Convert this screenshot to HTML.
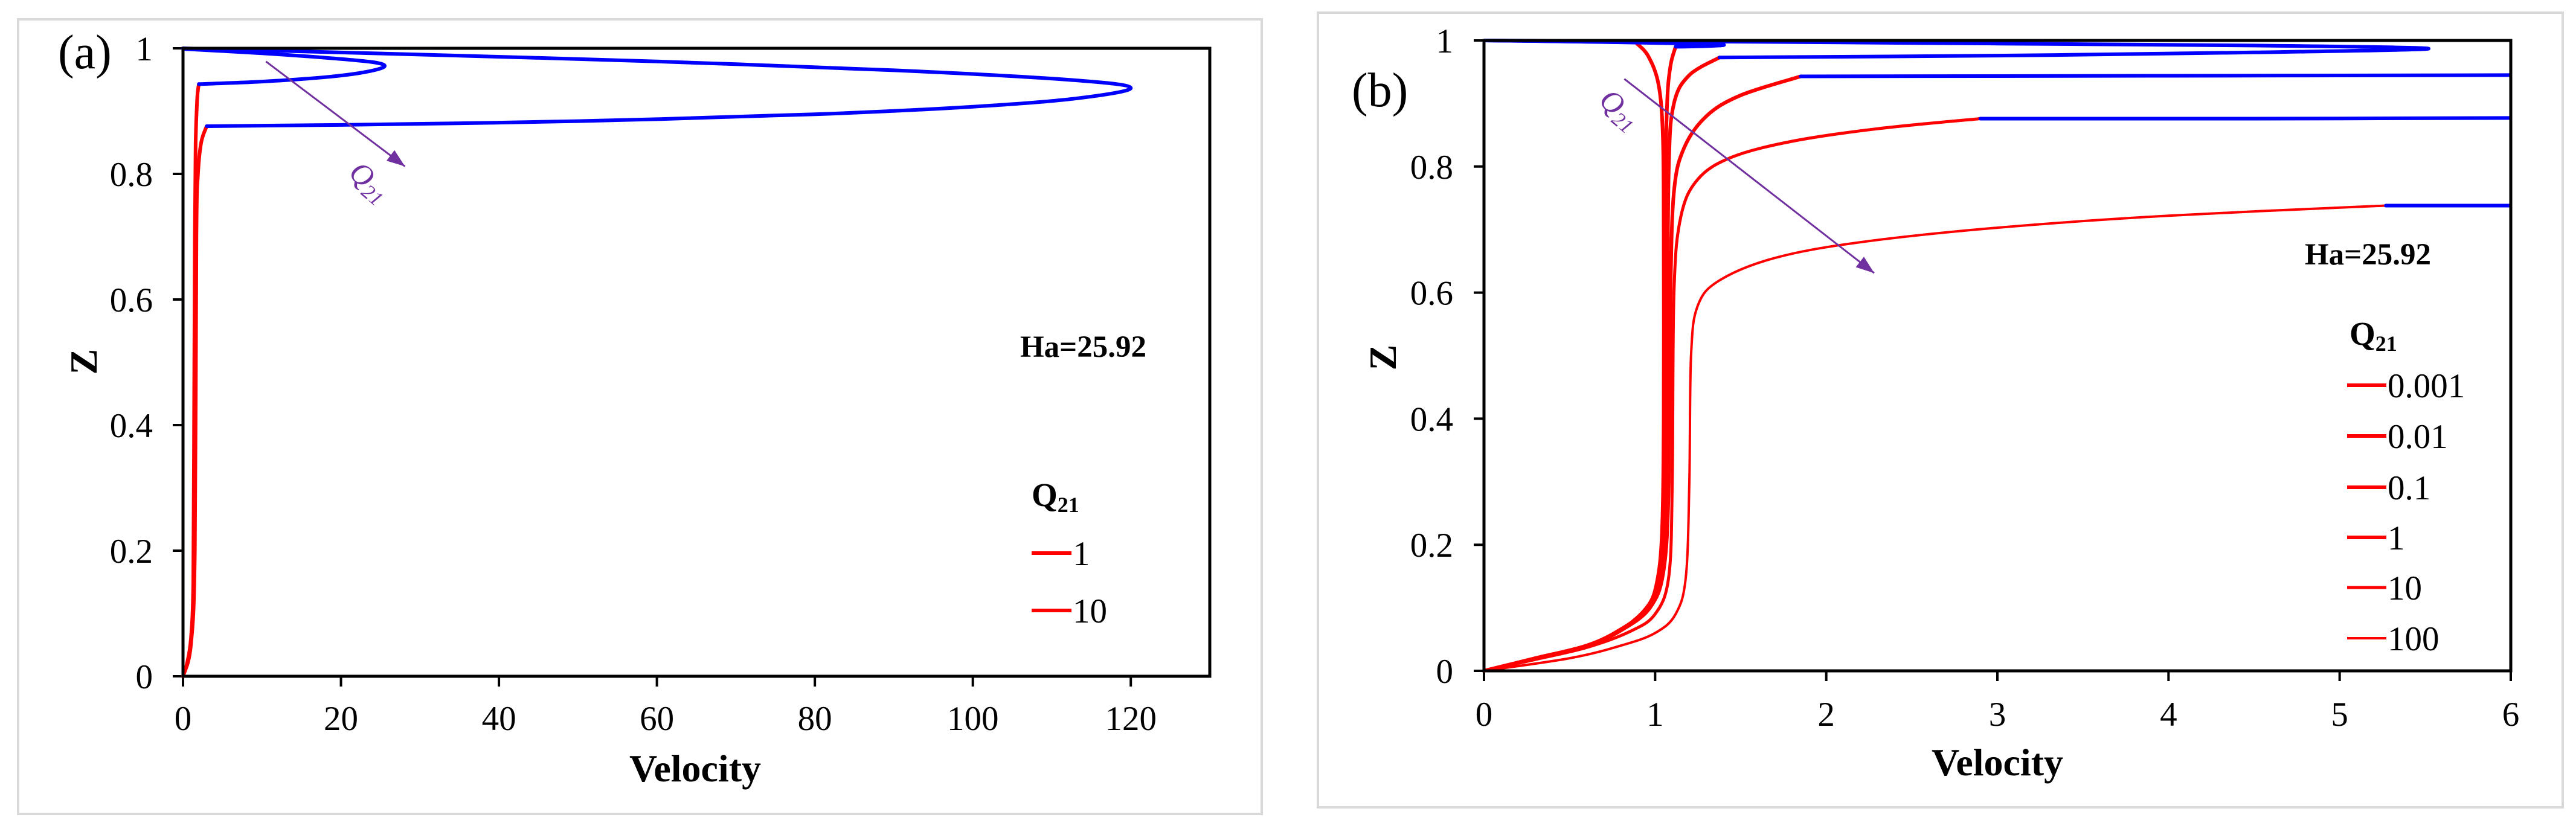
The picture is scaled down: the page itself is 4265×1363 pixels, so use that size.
<!DOCTYPE html>
<html><head><meta charset="utf-8"><style>
html,body{margin:0;padding:0;background:#fff;}
svg{display:block;}
svg text{font-family:"Liberation Serif","Times New Roman","DejaVu Serif",serif !important;}
</style></head><body>
<svg id="fig" width="4265" height="1363" viewBox="0 0 4265 1363" xmlns="http://www.w3.org/2000/svg" font-family="Liberation Serif, Times New Roman, DejaVu Serif, serif">
<rect x="30" y="32" width="2059" height="1316" fill="#fff" stroke="#d9d9d9" stroke-width="4"/>
<rect x="2182" y="21" width="2061" height="1316" fill="#fff" stroke="#d9d9d9" stroke-width="4"/>
<g id="ga"></g>
<g id="gb"></g>
</svg>
<script>
// ---- Panel (a) data ----
const aXTicks = [0,20,40,60,80,100,120];
const aYTicks = [0,0.2,0.4,0.6,0.8,1];
const aYTickLabels = ["0","0.2","0.4","0.6","0.8","1"];
const aQ1Red = [[0,0],[0.5,0.02],[1,0.06],[1.3,0.15],[1.4,0.4],[1.5,0.7],[1.6,0.85],[1.8,0.92],[2,0.943]];
const aQ1Blue = [[2,0.943],[10,0.947],[18,0.954],[23,0.962],[25.5,0.971],[24,0.978],[18,0.985],[10,0.992],[0,0.999]];
const aQ10Red = [[0,0],[1,0.05],[1.5,0.2],[1.7,0.7],[1.9,0.8],[2.3,0.85],[3,0.876]];
const aQ10Blue = [[3,0.876],[20,0.878],[50,0.884],[80,0.895],[100,0.907],[113,0.92],[120,0.937],[112,0.95],[90,0.965],[60,0.979],[30,0.99],[0,1]];
const aLegend = ["1","10"];
// ---- Panel (b) data ----
const bXTicks = [0,1,2,3,4,5,6];
const bYTicks = [0,0.2,0.4,0.6,0.8,1];
const bYTickLabels = ["0","0.2","0.4","0.6","0.8","1"];
const bLegend = ["0.001","0.01","0.1","1","10","100"];
const bQ0001Red = [[0,0],[0.3,0.02],[0.6,0.04],[0.8,0.065],[0.95,0.1],[1.01,0.14],[1.04,0.22],[1.05,0.4],[1.05,0.7],[1.045,0.85],[1.02,0.93],[0.96,0.975],[0.886,0.997]];
const bQ0001Blue = [[0.886,0.997],[0.6,0.998],[0.3,0.999],[0,1]];
const bQ001Red = [[0,0],[0.3,0.02],[0.6,0.04],[0.8,0.065],[0.95,0.1],[1.02,0.14],[1.05,0.22],[1.06,0.4],[1.06,0.75],[1.07,0.9],[1.09,0.96],[1.12,0.99]];
const bQ001Blue = [[1.12,0.99],[1.3,0.991],[1.4,0.993],[1.2,0.995],[0.8,0.997],[0.3,0.999],[0,1]];
const bQ01Red = [[0,0],[0.3,0.02],[0.6,0.04],[0.8,0.066],[0.96,0.1],[1.03,0.15],[1.06,0.25],[1.07,0.5],[1.08,0.8],[1.11,0.9],[1.2,0.945],[1.376,0.973]];
const bQ01Blue = [[1.376,0.973],[3,0.976],[4.5,0.981],[5.52,0.987],[4.5,0.992],[3,0.995],[1.5,0.998],[0,1]];
const bQ1Red = [[0,0],[0.3,0.019],[0.6,0.039],[0.8,0.064],[0.97,0.1],[1.05,0.16],[1.08,0.3],[1.09,0.6],[1.11,0.76],[1.17,0.83],[1.3,0.88],[1.5,0.913],[1.85,0.943]];
const bQ1Blue = [[1.85,0.943],[4,0.944],[6,0.945]];
const bQ10Red = [[0,0],[0.3,0.018],[0.6,0.037],[0.85,0.062],[1.0,0.09],[1.08,0.15],[1.1,0.3],[1.11,0.6],[1.15,0.72],[1.25,0.78],[1.45,0.815],[1.8,0.84],[2.3,0.86],[2.9,0.876]];
const bQ10Blue = [[2.9,0.876],[4.5,0.876],[6,0.877]];
const bQ100Red = [[0,0],[0.5,0.02],[0.8,0.04],[1.0,0.06],[1.12,0.09],[1.18,0.15],[1.2,0.3],[1.21,0.5],[1.25,0.58],[1.38,0.62],[1.7,0.655],[2.2,0.68],[3,0.703],[4,0.722],[5.27,0.738]];
const bQ100Blue = [[5.27,0.738],[6,0.738]];

const NS="http://www.w3.org/2000/svg";
const FF="Liberation Serif, Times New Roman, DejaVu Serif, serif";
function mk(parent,tag,attrs){const e=document.createElementNS(NS,tag);for(const k in attrs)e.setAttribute(k,attrs[k]);if(tag==='text')e.setAttribute('font-family',FF);parent.appendChild(e);return e;}
function spline(pts,sx,sy){
  const p=pts.map(q=>[sx(q[0]),sy(q[1])]);
  let d="M"+p[0][0].toFixed(1)+","+p[0][1].toFixed(1);
  for(let i=0;i<p.length-1;i++){
    const p0=p[Math.max(0,i-1)],p1=p[i],p2=p[i+1],p3=p[Math.min(p.length-1,i+2)];
    const c1=[p1[0]+(p2[0]-p0[0])/6,p1[1]+(p2[1]-p0[1])/6];
    const c2=[p2[0]-(p3[0]-p1[0])/6,p2[1]-(p3[1]-p1[1])/6];
    d+=" C"+c1[0].toFixed(1)+","+c1[1].toFixed(1)+" "+c2[0].toFixed(1)+","+c2[1].toFixed(1)+" "+p2[0].toFixed(1)+","+p2[1].toFixed(1);
  }
  return d;
}

function axes(g,L,R,T,B,xmax,xt,yt,ytl,ylabRight,xlabY){
  const sx=v=>L+(R-L)*v/xmax, sy=v=>B-(B-T)*v;
  xt.forEach(v=>{
    const t=mk(g,'line',{x1:sx(v),x2:sx(v),y1:B,y2:B+17,stroke:'#000','stroke-width':4});
    
    
    const l=mk(g,'text',{x:sx(v),y:xlabY,'font-size':57,'text-anchor':'middle'});l.textContent=String(v);
    
    
  });
  yt.forEach((v,i)=>{
    const t=mk(g,'line',{x1:L-17,x2:L,y1:sy(v),y2:sy(v),stroke:'#000','stroke-width':4});
    
    
    const l=mk(g,'text',{x:ylabRight,y:sy(v)+20,'font-size':57,'text-anchor':'end'});l.textContent=ytl[i];
    
    
  });
  return {sx,sy};
}
function frame(g,L,R,T,B){
  const r=mk(g,'rect',{x:L,y:T,width:R-L,height:B-T,fill:'none',stroke:'#000','stroke-width':5});
  
  
}
function series(g,pts,color,w,sx,sy,name){
  const p=mk(g,'path',{d:spline(pts,sx,sy),fill:'none',stroke:color,'stroke-width':w,'stroke-linejoin':'round','stroke-linecap':'round'});
  
  
}
function arrow(g,x1,y1,x2,y2){
  const l=mk(g,'line',{x1:x1,y1:y1,x2:x2,y2:y2,stroke:'#7030a0','stroke-width':3});
  
  
  const a=Math.atan2(y2-y1,x2-x1),h=30,w=11;
  const bx=x2-h*Math.cos(a),by=y2-h*Math.sin(a);
  const pts=[[x2,y2],[bx+w*Math.sin(a),by-w*Math.cos(a)],[bx-w*Math.sin(a),by+w*Math.cos(a)]];
  const hd=mk(g,'polygon',{points:pts.map(p=>p.join(',')).join(' '),fill:'#7030a0'});
  
  
}
function text(g,x,y,s,attrs,name){const t=mk(g,'text',Object.assign({x:x,y:y},attrs));t.innerHTML=s;return t;}

// ---- Panel (a) ----
(function(){
  const g=document.getElementById('ga');
  const L=303,R=2003,T=80,B=1120;
  const {sx,sy}=axes(g,L,R,T,B,130,aXTicks,aYTicks,aYTickLabels,253,1209);
  series(g,aQ1Red,'#ff0000',6,sx,sy,'series-q1-red');
  series(g,aQ10Red,'#ff0000',6,sx,sy,'series-q10-red');
  series(g,aQ1Blue,'#0000ff',6,sx,sy,'series-q1-blue');
  series(g,aQ10Blue,'#0000ff',6,sx,sy,'series-q10-blue');
  frame(g,L,R,T,B);
  arrow(g,sx(10.5),sy(0.979),sx(28.1),sy(0.812));
  text(g,0,0,'Q<tspan font-size="34" dy="10">21</tspan>',{'font-size':50,'font-style':'italic',fill:'#7030a0',transform:'translate(575,290) rotate(40)'},'arrow-label-q21');
  text(g,96,113,'(a)',{'font-size':80},'panel-label-a');
  text(g,1151,1294,'Velocity',{'font-size':64,'font-weight':'bold','text-anchor':'middle'},'x-axis-title');
  text(g,0,0,'Z',{'font-size':64,'font-weight':'bold','text-anchor':'middle',transform:'translate(160,599) rotate(-90)'},'y-axis-title');
  text(g,1689,591,'Ha=25.92',{'font-size':51,'font-weight':'bold'},'ha-annotation');
  text(g,1708,838,'Q<tspan font-size="36" dy="10">21</tspan>',{'font-size':55,'font-weight':'bold'},'legend-title');
  aLegend.forEach((s,i)=>{
    const y=[916,1011][i];
    const ln=mk(g,'line',{x1:1708,x2:1774,y1:y,y2:y,stroke:'#ff0000','stroke-width':6});
    
    
    text(g,1776,y+20,s,{'font-size':57},'legend-entry');
  });
})();

// ---- Panel (b) ----
(function(){
  const g=document.getElementById('gb');
  const L=2457,R=4157,T=67,B=1111;
  const {sx,sy}=axes(g,L,R,T,B,6,bXTicks,bYTicks,bYTickLabels,2406,1202);
  const clipId='clipb';
  const cp=mk(g,'clipPath',{id:clipId});mk(cp,'rect',{x:L,y:T-10,width:R-L,height:B-T+20});
  const cg=mk(g,'g',{'clip-path':'url(#'+clipId+')'});
  
  
  const reds=[bQ0001Red,bQ001Red,bQ01Red,bQ1Red,bQ10Red,bQ100Red];
  const blues=[bQ0001Blue,bQ001Blue,bQ01Blue,bQ1Blue,bQ10Blue,bQ100Blue];
  const ws=[6,6,6,6,5,4];
  reds.forEach((s,i)=>series(cg,s,'#ff0000',ws[i],sx,sy,'series-q'+bLegend[i]+'-red'));
  blues.forEach((s,i)=>series(cg,s,'#0000ff',6,sx,sy,'series-q'+bLegend[i]+'-blue'));
  frame(g,L,R,T,B);
  arrow(g,sx(0.82),sy(0.939),sx(2.28),sy(0.631));
  text(g,0,0,'Q<tspan font-size="34" dy="10">21</tspan>',{'font-size':50,'font-style':'italic',fill:'#7030a0',transform:'translate(2645,170) rotate(40)'},'arrow-label-q21');
  text(g,2238,176,'(b)',{'font-size':80},'panel-label-b');
  text(g,3307,1284,'Velocity',{'font-size':64,'font-weight':'bold','text-anchor':'middle'},'x-axis-title');
  text(g,0,0,'Z',{'font-size':64,'font-weight':'bold','text-anchor':'middle',transform:'translate(2311,592) rotate(-90)'},'y-axis-title');
  text(g,3816,438,'Ha=25.92',{'font-size':51,'font-weight':'bold'},'ha-annotation');
  text(g,3890,571,'Q<tspan font-size="36" dy="10">21</tspan>',{'font-size':55,'font-weight':'bold'},'legend-title');
  const ly=[638,722,807,890,973,1057];
  bLegend.forEach((s,i)=>{
    const ln=mk(g,'line',{x1:3886,x2:3951,y1:ly[i],y2:ly[i],stroke:'#ff0000','stroke-width':ws[i]});
    
    
    text(g,3953,ly[i]+20,s,{'font-size':57},'legend-entry');
  });
})();
</script>
</body></html>
